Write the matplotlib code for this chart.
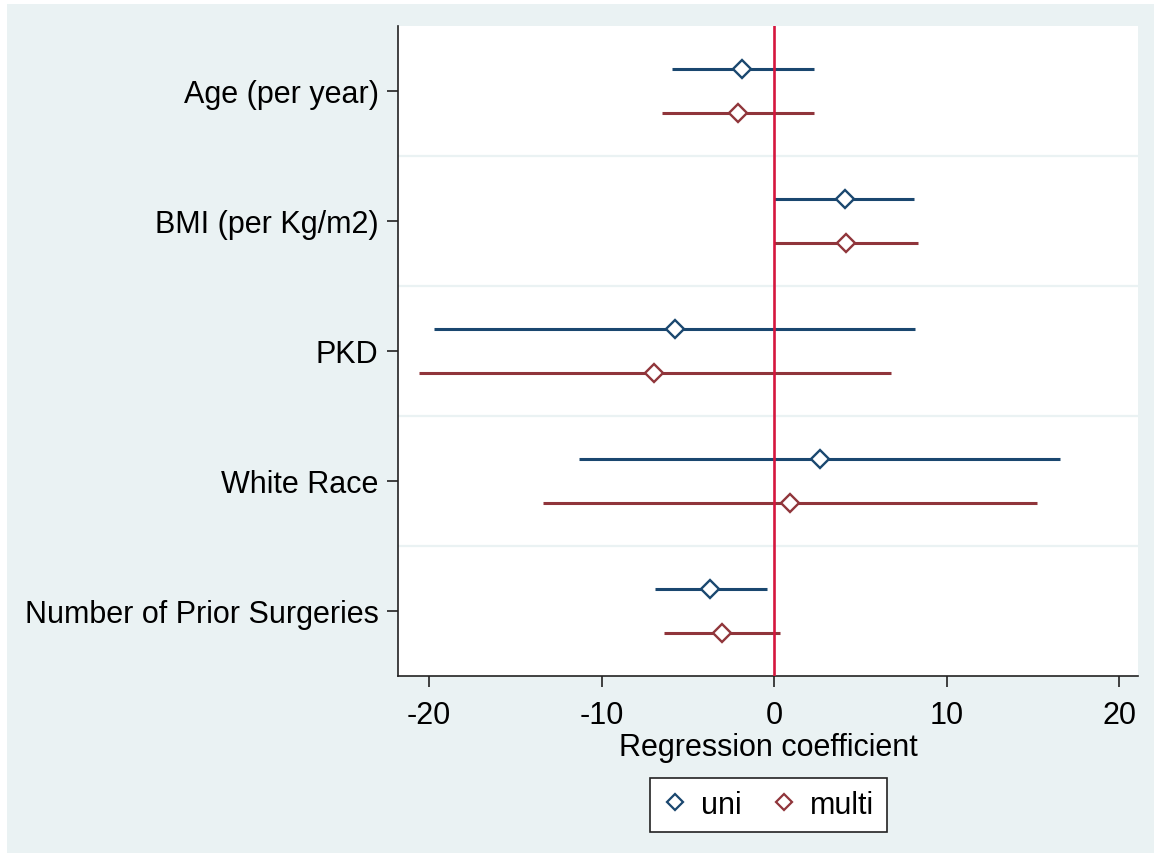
import matplotlib
matplotlib.use('Agg')
import matplotlib.pyplot as plt
from matplotlib.lines import Line2D
from matplotlib.patches import Rectangle
import numpy as np

plt.rcParams['font.family'] = ['Liberation Sans', 'DejaVu Sans']

# coefficient estimates and 95% CI
labels = ['Age (per year)', 'BMI (per Kg/m2)', 'PKD', 'White Race', 'Number of Prior Surgeries']
uni_coef = [-1.85, 4.1, -5.75, 2.65, -3.7]
uni_lo = [-5.9, 0.0, -19.7, -11.3, -6.9]
uni_hi = [2.3, 8.1, 8.2, 16.6, -0.4]
multi_coef = [-2.1, 4.2, -6.95, 0.95, -3.0]
multi_lo = [-6.5, 0.0, -20.6, -13.4, -6.4]
multi_hi = [2.3, 8.35, 6.8, 15.25, 0.35]
xticks = [-20, -10, 0, 10, 20]

bg = '#EAF2F3'
c_uni = '#1A476F'
c_multi = '#90353B'
c_zero = '#D5163E'
fs = 22

fig = plt.figure(figsize=(11.54, 8.54), dpi=100)
fig.patch.set_facecolor('white')
fig.patches.append(Rectangle((7 / 1154, 0), 1, 1 - 5 / 854, transform=fig.transFigure,
                             facecolor=bg, edgecolor='none', zorder=-10))

ax = fig.add_axes([398 / 1154, 1 - 677 / 854, (1138 - 398) / 1154, (677 - 27) / 854])
ax.set_facecolor('white')

y = np.arange(len(labels))
off = 0.17

# row separators
for s in y[:-1] + 0.5:
    ax.axhline(s, color=bg, lw=1.6, zorder=1)

ax.axvline(0, color=c_zero, lw=1.9, zorder=3)

ax.hlines(y - off, uni_lo, uni_hi, color=c_uni, lw=2.2, zorder=2)
ax.hlines(y + off, multi_lo, multi_hi, color=c_multi, lw=2.2, zorder=2)
ax.plot(uni_coef, y - off, 'D', ms=9, mfc='white', mec=c_uni, mew=1.7, zorder=4)
ax.plot(multi_coef, y + off, 'D', ms=9, mfc='white', mec=c_multi, mew=1.7, zorder=4)

ax.set_xlim(-21.8, 21.1)
ax.set_ylim(len(labels) - 0.5, -0.5)
ax.set_xticks(xticks)
ax.set_xticklabels([str(t) for t in xticks])
ax.set_yticks(y)
ax.set_yticklabels(labels)
ax.tick_params(axis='both', labelsize=fs, length=8, width=1.2, color='#222222')
ax.tick_params(axis='y', pad=6)
ax.tick_params(axis='x', pad=9)

for side in ['top', 'right']:
    ax.spines[side].set_visible(False)
for side in ['left', 'bottom']:
    ax.spines[side].set_linewidth(1.2)
    ax.spines[side].set_color('#222222')

ax.set_xlabel('Regression coefficient', fontsize=fs, labelpad=2)

handles = [Line2D([], [], ls='none', marker='D', ms=8.5, mfc='white', mec=c_uni, mew=1.6),
           Line2D([], [], ls='none', marker='D', ms=8.5, mfc='white', mec=c_multi, mew=1.6)]
leg = fig.legend(handles, ['uni', 'multi'], loc='center', ncol=2,
                 bbox_to_anchor=(768.5 / 1154, 1 - 806 / 854), fontsize=fs,
                 frameon=True, fancybox=False, edgecolor='#222222', facecolor='white',
                 handlelength=0.8, handletextpad=0.45, columnspacing=1.0,
                 borderpad=0.4, borderaxespad=0, framealpha=1)
leg.get_frame().set_linewidth(1.2)

fig.savefig('out.png', dpi=100, facecolor=fig.get_facecolor())
